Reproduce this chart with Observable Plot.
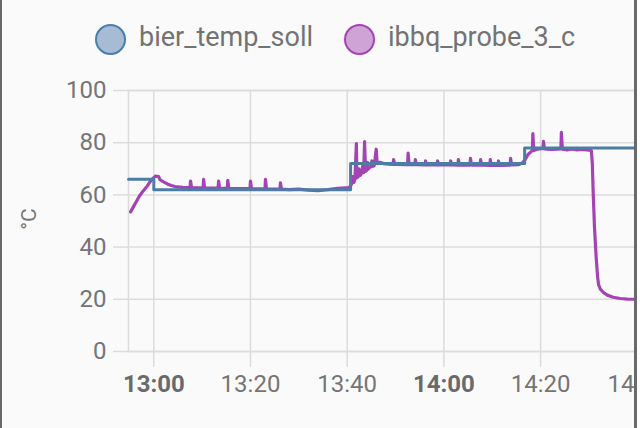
<!DOCTYPE html>
<html>
<head>
<meta charset="utf-8">
<script src="https://cdn.jsdelivr.net/npm/d3@7"></script>
<script src="https://cdn.jsdelivr.net/npm/@observablehq/plot@0.6"></script>
<style>
  html, body { margin: 0; padding: 0; background: #ffffff; }
  #wrap {
    position: relative; width: 632px; height: 428px; overflow: hidden;
    background: #fafafa; border-left: 2px solid #6a6a6a; border-right: 3px solid #6a6a6a;
    font-family: Roboto, "Noto Sans", sans-serif;
  }
  .item { position: absolute; top: 0; height: 70px; }
  .dot { position: absolute; top: 24px; left: 0; width: 27px; height: 27px; border-radius: 50%; border: 2px solid; }
  .lab { position: absolute; top: 24px; font-size: 27px; line-height: 27px; color: #737373; white-space: nowrap; }
  #chart { position: absolute; left: 0; top: 70px; width: 700px; }
  #chart svg { max-width: none !important; }
</style>
</head>
<body>
<div id="wrap">
  <div id="legend"></div>
  <div id="chart"></div>
</div>
<script>
// ---- data ----
const seriesNames = ["bier_temp_soll", "ibbq_probe_3_c"];
const seriesColors = ["#4b7da6", "#a443b4"];
const seriesFills = ["#a5bcd4", "#cfa3d5"];
const baseTime = [13, 0]; // 13:00, minutes below are relative to this

// bier_temp_soll (set point, step changes)
const sollMinutes = [-5.23, 0, 40.7, 76.7, 99.5];
const sollValues  = [66, 62, 72, 78, 78];

// ibbq_probe_3_c (measured probe temperature)
const probeMinutes = [
  -4.8, -4.2, -3.6, -3, -2.2, -1.5, -0.8, -0.2, 0.4, 1, 1.3, 2, 2.8, 3.6, 4.4, 6,
  7.5, 7.6, 7.8, 9, 10.2, 10.3, 10.5, 12, 13.3, 13.4, 13.6, 15.2, 15.3, 15.5, 17.5,
  19.9, 20, 20.2, 23, 23.1, 23.3, 26.1, 26.2, 26.4, 28, 30, 32, 34, 36, 38, 40.4,
  40.7, 41.0, 41.1, 41.4, 41.6, 41.9, 42.0, 42.3, 42.4, 42.7, 42.9, 43.2, 43.4, 43.6, 43.8,
  44.1, 44.2, 44.4, 44.6, 45.0, 45.1, 45.4, 45.6, 46, 46.2, 46.8, 47.5, 48.5,
  49.5, 49.6, 49.8, 52.5, 52.6, 52.8, 54, 54.1, 54.3, 56.1, 56.2, 56.4, 58.6, 58.7, 58.9,
  61.3, 61.4, 61.6, 62.9, 63, 63.2, 65.4, 65.5, 65.7, 67.5, 67.6, 67.8, 69.5, 69.6, 69.8,
  71.2, 71.3, 71.5, 73.7, 73.8, 74, 75.5, 76.2, 76.8, 77.4, 78, 78.3, 78.4, 78.6, 79.3,
  80.5, 80.6, 80.8, 82, 83.5, 84.2, 84.3, 84.5, 85.5, 86.5, 87.5, 88.5, 89.5, 90.5,
  90.7, 90.9, 91.15, 91.5, 91.8, 92.0, 92.4, 93, 93.8, 95, 96.5, 98, 99.5
];
const probeValues = [
  53.5, 55.5, 57.5, 59.5, 61.5, 63, 65, 66.3, 67.2, 67, 65.8, 65, 64.2, 63.6, 63.2, 62.9,
  62.8, 65.3, 62.8, 62.7, 62.7, 66, 62.7, 62.6, 62.6, 65.3, 62.5, 62.5, 65.6, 62.5, 62.4,
  62.4, 65.3, 62.3, 62.3, 66, 62.3, 62.2, 64.6, 62.2, 62, 62.2, 61.8, 61.6, 62, 62.5, 62.8,
  63.5, 64.5, 67, 64.8, 66, 79.7, 66.5, 67, 70, 67.5, 68, 71, 68.5, 80.4, 69,
  69.5, 72.5, 70, 70.5, 70.8, 73, 71, 71.3, 77.5, 72, 72.5, 72, 71.8,
  71.7, 73.5, 71.7, 71.6, 76, 71.6, 71.6, 73.5, 71.6, 71.5, 73, 71.5, 71.5, 73, 71.5,
  71.5, 73, 71.5, 71.4, 73.5, 71.4, 71.4, 74, 71.4, 71.4, 73.5, 71.4, 71.3, 73.5, 71.3,
  71.3, 73, 71.3, 71.4, 74, 71.5, 71.6, 72.2, 73.5, 75.5, 76.5, 77, 83.5, 77, 77.5,
  77.8, 80.5, 77.6, 77.4, 77.5, 77.6, 84, 77.5, 77.2, 77.6, 77.2, 77.4, 77.2, 77,
  72, 60, 47.6, 36, 28.5, 25.5, 23.8, 22.6, 21.6, 20.8, 20.3, 20.1, 20
];

const xTickLabels = ["13:00", "13:20", "13:40", "14:00", "14:20", "14:40"];
const yTicks = [0, 20, 40, 60, 80, 100];
const yLabel = "°C";

// ---- helpers ----
const base = new Date(2023, 0, 1, baseTime[0], baseTime[1], 0);
const toDate = m => new Date(base.getTime() + m * 60000);
const parseHM = s => { const [h, mm] = s.split(":").map(Number); return new Date(2023, 0, 1, h, mm, 0); };

const soll = sollMinutes.map((m, i) => ({t: toDate(m), v: sollValues[i]}));
const probe = probeMinutes.map((m, i) => ({t: toDate(m), v: probeValues[i]}));
const xTicks = xTickLabels.map(parseHM);

// ---- legend ----
const legend = document.getElementById("legend");
const legendLeft = [93, 342];
seriesNames.forEach((name, i) => {
  const it = document.createElement("div");
  it.className = "item";
  it.style.left = legendLeft[i] + "px";
  const dot = document.createElement("div");
  dot.className = "dot";
  dot.style.background = seriesFills[i];
  dot.style.borderColor = seriesColors[i];
  const lab = document.createElement("div");
  lab.className = "lab";
  lab.style.left = "44px";
  lab.textContent = name;
  it.appendChild(dot); it.appendChild(lab);
  legend.appendChild(it);
});

// ---- chart ----
const grid = "#dcdcdc";
const chart = Plot.plot({
  width: 700,
  height: 358,
  marginLeft: 126,
  marginRight: 0,
  marginTop: 20,
  marginBottom: 77,
  style: {fontFamily: "Roboto, sans-serif", fontSize: "24px", background: "transparent", color: "#757575", overflow: "visible", maxWidth: "none"},
  x: {domain: [toDate(-5.233), toDate(113.49)]},
  y: {domain: [0, 100]},
  marks: [
    Plot.gridY(yTicks, {stroke: grid, strokeOpacity: 1, strokeWidth: 1.5}),
    Plot.gridX(xTicks, {stroke: grid, strokeOpacity: 1, strokeWidth: 1.5}),
    Plot.frame({stroke: grid, strokeWidth: 1.5}),
    Plot.axisY({ticks: yTicks, tickSize: 15, tickPadding: 7, stroke: grid, strokeWidth: 1.5, fill: "#757575", label: null}),
    Plot.axisX({ticks: xTicks, tickSize: 16, tickPadding: 7, stroke: grid, strokeWidth: 1.5, fill: "#757575", label: null,
                tickFormat: d3.timeFormat("%H:%M")}),
    Plot.line(probe, {x: "t", y: "v", stroke: seriesColors[1], strokeWidth: 3.2}),
    Plot.line(soll, {x: "t", y: "v", curve: "step-after", stroke: seriesColors[0], strokeWidth: 3})
  ]
});
chart.style.maxWidth = "none";
document.getElementById("chart").appendChild(chart);

const svg = d3.select(chart);
svg.selectAll("text").filter(function() { return /^\d\d:00$/.test(this.textContent); })
  .attr("font-weight", "bold").attr("fill", "#6a6a6a");
svg.append("text")
  .attr("transform", "translate(34,149) rotate(-90)")
  .attr("text-anchor", "middle")
  .attr("font-size", 21)
  .attr("font-family", "Roboto, sans-serif")
  .attr("fill", "#757575")
  .text(yLabel);
</script>
</body>
</html>
